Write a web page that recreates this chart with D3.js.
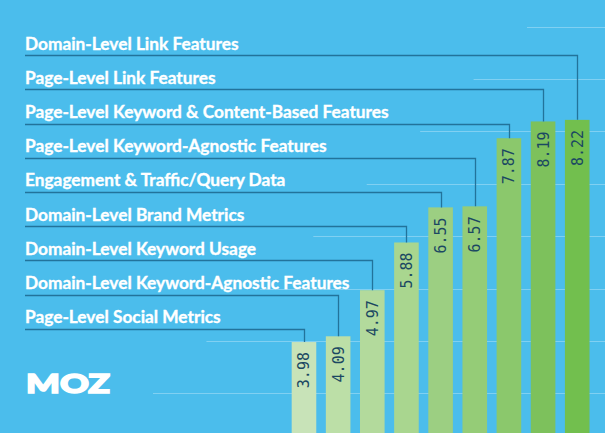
<!DOCTYPE html>
<html><head><meta charset="utf-8">
<script src="https://cdn.jsdelivr.net/npm/d3@7/dist/d3.min.js"></script>
<style>
html,body{margin:0;padding:0;background:#4bbdec;overflow:hidden;}
svg{display:block;}
</style></head>
<body>
<svg id="chart" width="605" height="433"></svg>
<script>
const categories = [
  "Page-Level Social Metrics",
  "Domain-Level Keyword-Agnostic Features",
  "Domain-Level Keyword Usage",
  "Domain-Level Brand Metrics",
  "Engagement & Traffic/Query Data",
  "Page-Level Keyword-Agnostic Features",
  "Page-Level Keyword & Content-Based Features",
  "Page-Level Link Features",
  "Domain-Level Link Features"
];
const values = [3.98, 4.09, 4.97, 5.88, 6.55, 6.57, 7.87, 8.19, 8.22];
const valueLabels = ["3.98", "4.09", "4.97", "5.88", "6.55", "6.57", "7.87", "8.19", "8.22"];
const gridValues = [3, 4, 5, 6, 7, 8, 9, 10];
const barColors = ["#c8e3b8", "#bcdfa7", "#b3da9c", "#a9d68f", "#9ccf82", "#95cc77", "#8bc86c", "#7dc15c", "#72bf4e"];

const W = 605, H = 433;
const svg = d3.select("#chart");
svg.append("rect").attr("width", W).attr("height", H).attr("fill", "#4bbdec");

const y = d3.scaleLinear().domain([0, 10]).range([550.6, 26.6]);
const x = d3.scaleBand().domain(categories).range([286.9, 594.3]).paddingInner(0.28).paddingOuter(0.14);
const labelY = d3.scalePoint().domain(categories).range([328.7, 55.1]);
const gridStart = d3.scaleLinear().domain([3, 10]).range([153, 527]);
const color = d3.scaleOrdinal().domain(categories).range(barColors);

// grid lines
svg.append("g").selectAll("line").data(gridValues).join("line")
  .attr("x1", d => gridStart(d)).attr("x2", W)
  .attr("y1", d => Math.round(y(d)) + 0.5).attr("y2", d => Math.round(y(d)) + 0.5)
  .attr("stroke", "#80d0f2").attr("stroke-width", 1.2);

// bars
svg.append("g").selectAll("rect").data(categories).join("rect")
  .attr("x", d => x(d)).attr("width", x.bandwidth())
  .attr("y", (d, i) => y(values[i])).attr("height", (d, i) => H - y(values[i]) + 5)
  .attr("fill", d => color(d));

// connectors
svg.append("g").selectAll("path").data(categories).join("path")
  .attr("d", (d, i) => {
    const ly = Math.round(labelY(d)) + 0.5;
    const cx = Math.round(x(d) + x.bandwidth() / 2) + 0.5;
    return `M25,${ly}H${cx}V${y(values[i])}`;
  })
  .attr("fill", "none").attr("stroke", "#22739b").attr("stroke-width", 1.3);

// category labels
svg.append("g").selectAll("text").data(categories).join("text")
  .attr("x", 25).attr("y", d => labelY(d) - 5.5)
  .attr("fill", "#ffffff")
  .attr("stroke", "#ffffff").attr("stroke-width", 0.35)
  .attr("font-family", "Lato, 'Open Sans', sans-serif")
  .attr("font-weight", 700).attr("font-size", 17.3)
  .text(d => d);

// value labels
svg.append("g").selectAll("text").data(categories).join("text")
  .attr("transform", (d, i) => `translate(${x(d) + x.bandwidth() / 2 + 5.5},${y(values[i]) + 10}) rotate(-90)`)
  .attr("text-anchor", "end")
  .attr("fill", "#1b4862")
  .attr("font-family", "'DejaVu Sans Mono', monospace")
  .attr("font-size", 15)
  .text((d, i) => valueLabels[i]);

// logo
svg.append("text").attr("x", 26).attr("y", 393)
  .attr("fill", "#ffffff")
  .attr("stroke", "#ffffff").attr("stroke-width", 1.6).attr("stroke-linejoin", "miter")
  .attr("font-family", "Lato, sans-serif").attr("font-weight", 900).attr("font-size", 27)
  .attr("textLength", 84).attr("lengthAdjust", "spacingAndGlyphs")
  .text("MOZ");
</script>
</body></html>
